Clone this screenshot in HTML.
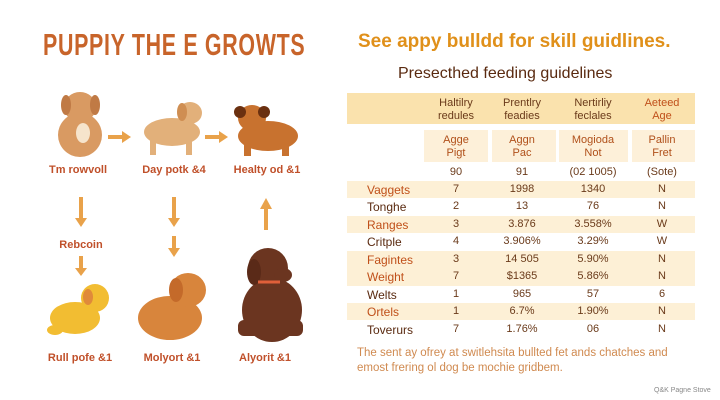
<!DOCTYPE html>
<html><head><meta charset="utf-8"><style>
body{margin:0;width:720px;height:400px;background:#fff;position:relative;overflow:hidden;font-family:"Liberation Sans",sans-serif}
.a{position:absolute;white-space:nowrap}
.c{transform:translateX(-50%);text-align:center}
.lab{font-size:11px;color:#c0502a;font-weight:bold}
.t{font-size:11px;color:#6a3a1a;line-height:13px}
.row{position:absolute;left:347px;width:348px;height:17px}
.rl{position:absolute;left:20px;font-size:12px;top:2px}
.cv{position:absolute;font-size:11px;top:2px;transform:translateX(-50%);color:#6a3a1a}
</style></head><body>
<div class="a" style="left:43px;top:27px;font-size:31px;font-weight:bold;color:#c8642a;transform:scaleX(0.69);transform-origin:left top;letter-spacing:1px">PUPPIY THE E GROWTS</div>

<svg class="a" style="left:0;top:0" width="340" height="400">
<g fill="#e9a24a" stroke="#e9a24a" stroke-width="4">
<line x1="108" y1="137" x2="124" y2="137"/><polygon points="122,131 131,137 122,143" stroke="none"/>
<line x1="205" y1="137" x2="221" y2="137"/><polygon points="219,131 228,137 219,143" stroke="none"/>
<line x1="81" y1="197" x2="81" y2="222"/><polygon points="75,218 81,227 87,218" stroke="none"/>
<line x1="174" y1="197" x2="174" y2="222"/><polygon points="168,218 174,227 180,218" stroke="none"/>
<line x1="174" y1="236" x2="174" y2="252"/><polygon points="168,248 174,257 180,248" stroke="none"/>
<line x1="81" y1="256" x2="81" y2="272"/><polygon points="75,268 81,276 87,268" stroke="none"/>
<line x1="266" y1="230" x2="266" y2="205"/><polygon points="260,209 266,198 272,209" stroke="none"/>
</g>
<g fill="#d99a62"><ellipse cx="80" cy="135" rx="22" ry="22"/><ellipse cx="80" cy="107" rx="16" ry="15"/><ellipse cx="66" cy="105" rx="5" ry="10" fill="#c07a45"/><ellipse cx="95" cy="105" rx="5" ry="10" fill="#c07a45"/><ellipse cx="83" cy="133" rx="7" ry="10" fill="#f6e4cc"/></g>
<g fill="#e2b07a"><ellipse cx="172" cy="132" rx="28" ry="14"/><ellipse cx="190" cy="113" rx="12" ry="11"/><rect x="150" y="135" width="6" height="20"/><rect x="186" y="135" width="6" height="20"/><ellipse cx="182" cy="112" rx="5" ry="9" fill="#cf8e52"/></g>
<g fill="#c8722f"><ellipse cx="268" cy="136" rx="30" ry="15"/><ellipse cx="252" cy="118" rx="14" ry="13"/><ellipse cx="240" cy="112" rx="6" ry="6" fill="#6a3010"/><ellipse cx="264" cy="112" rx="6" ry="6" fill="#6a3010"/><rect x="244" y="140" width="7" height="16"/><rect x="282" y="140" width="7" height="16"/></g>
<g fill="#f2bd32"><ellipse cx="75" cy="318" rx="25" ry="16"/><ellipse cx="95" cy="298" rx="14" ry="14"/><ellipse cx="88" cy="297" rx="5" ry="8" fill="#e08a3a"/><ellipse cx="55" cy="330" rx="8" ry="5"/></g>
<g fill="#d8853c"><ellipse cx="170" cy="318" rx="32" ry="22"/><ellipse cx="188" cy="290" rx="18" ry="17"/><ellipse cx="176" cy="290" rx="7" ry="12" fill="#c46a2a"/></g>
<g fill="#6b3520"><ellipse cx="272" cy="310" rx="30" ry="32"/><ellipse cx="268" cy="268" rx="20" ry="20"/><ellipse cx="283" cy="275" rx="9" ry="7"/><ellipse cx="254" cy="272" rx="7" ry="13" fill="#5a2a18"/><rect x="238" y="320" width="65" height="16" rx="6"/><line x1="258" y1="282" x2="280" y2="282" stroke="#e0603a" stroke-width="3"/></g>
</svg>
<div class="a c lab" style="left:78px;top:164px">Tm rowvoll</div>
<div class="a c lab" style="left:174px;top:164px">Day potk &amp;4</div>
<div class="a c lab" style="left:267px;top:164px">Healty od &amp;1</div>
<div class="a c lab" style="left:81px;top:239px">Rebcoin</div>
<div class="a c lab" style="left:80px;top:352px">Rull pofe &amp;1</div>
<div class="a c lab" style="left:172px;top:352px">Molyort &amp;1</div>
<div class="a c lab" style="left:265px;top:352px">Alyorit &amp;1</div>

<div class="a" style="left:358px;top:31px;font-size:19px;font-weight:bold;color:#e0901a">See appy bulldd for skill guidlines.</div>
<div class="a" style="left:398px;top:65px;font-size:16px;color:#5a2a10">Presecthed feeding guidelines</div>

<div class="a" style="left:347px;top:93px;width:348px;height:31px;background:#fae2ad"></div>
<div class="a c t" style="left:456px;top:97px">Haltilry<br>redules</div>
<div class="a c t" style="left:522px;top:97px">Prentlry<br>feadies</div>
<div class="a c t" style="left:593px;top:97px">Nertirliy<br>feclales</div>
<div class="a c t" style="left:662px;top:97px;color:#c0501a">Aeteed<br>Age</div>
<div class="a" style="left:424px;top:130px;width:64px;height:32px;background:#fdf0d9"></div>
<div class="a" style="left:492px;top:130px;width:64px;height:32px;background:#fdf0d9"></div>
<div class="a" style="left:559px;top:130px;width:69px;height:32px;background:#fdf0d9"></div>
<div class="a" style="left:632px;top:130px;width:63px;height:32px;background:#fdf0d9"></div>
<div class="a c t" style="left:456px;top:134px;color:#b0501a">Agge<br>Pigt</div>
<div class="a c t" style="left:522px;top:134px;color:#b0501a">Aggn<br>Pac</div>
<div class="a c t" style="left:593px;top:134px;color:#b0501a">Mogioda<br>Not</div>
<div class="a c t" style="left:662px;top:134px;color:#b0501a">Pallin<br>Fret</div>
<div class="a c t" style="left:456px;top:166px">90</div>
<div class="a c t" style="left:522px;top:166px">91</div>
<div class="a c t" style="left:593px;top:166px">(02 1005)</div>
<div class="a c t" style="left:662px;top:166px">(Sote)</div>

<div class="row" style="top:181px;background:#fdf0d6"><span class="rl" style="color:#c0501a">Vaggets</span><span class="cv" style="left:109px">7</span><span class="cv" style="left:175px">1998</span><span class="cv" style="left:246px">1340</span><span class="cv" style="left:315px">N</span></div>
<div class="row" style="top:198px"><span class="rl" style="color:#5a2a10">Tonghe</span><span class="cv" style="left:109px">2</span><span class="cv" style="left:175px">13</span><span class="cv" style="left:246px">76</span><span class="cv" style="left:315px">N</span></div>
<div class="row" style="top:216px;background:#fdf0d6"><span class="rl" style="color:#c0501a">Ranges</span><span class="cv" style="left:109px">3</span><span class="cv" style="left:175px">3.876</span><span class="cv" style="left:246px">3.558%</span><span class="cv" style="left:315px">W</span></div>
<div class="row" style="top:233px"><span class="rl" style="color:#5a2a10">Critple</span><span class="cv" style="left:109px">4</span><span class="cv" style="left:175px">3.906%</span><span class="cv" style="left:246px">3.29%</span><span class="cv" style="left:315px">W</span></div>
<div class="row" style="top:251px;height:35px;background:#fdf0d6"><span class="rl" style="color:#c0501a">Fagintes</span><span class="cv" style="left:109px">3</span><span class="cv" style="left:175px">14 505</span><span class="cv" style="left:246px">5.90%</span><span class="cv" style="left:315px">N</span></div>
<div class="row" style="top:268px"><span class="rl" style="color:#c0501a">Weight</span><span class="cv" style="left:109px">7</span><span class="cv" style="left:175px">$1365</span><span class="cv" style="left:246px">5.86%</span><span class="cv" style="left:315px">N</span></div>
<div class="row" style="top:286px"><span class="rl" style="color:#5a2a10">Welts</span><span class="cv" style="left:109px">1</span><span class="cv" style="left:175px">965</span><span class="cv" style="left:246px">57</span><span class="cv" style="left:315px">6</span></div>
<div class="row" style="top:303px;background:#fdf0d6"><span class="rl" style="color:#c0501a">Ortels</span><span class="cv" style="left:109px">1</span><span class="cv" style="left:175px">6.7%</span><span class="cv" style="left:246px">1.90%</span><span class="cv" style="left:315px">N</span></div>
<div class="row" style="top:321px"><span class="rl" style="color:#5a2a10">Toverurs</span><span class="cv" style="left:109px">7</span><span class="cv" style="left:175px">1.76%</span><span class="cv" style="left:246px">06</span><span class="cv" style="left:315px">N</span></div>

<div class="a" style="left:357px;top:346px;font-size:11.5px;color:#d08a50;line-height:15px">The sent ay ofrey at switlehsita bullted fet ands chatches and<br>emost frering ol dog be mochie gridbem.</div>
<div class="a" style="left:654px;top:387px;font-size:7px;color:#888">Q&amp;K Pagne Stove</div>
</body></html>
